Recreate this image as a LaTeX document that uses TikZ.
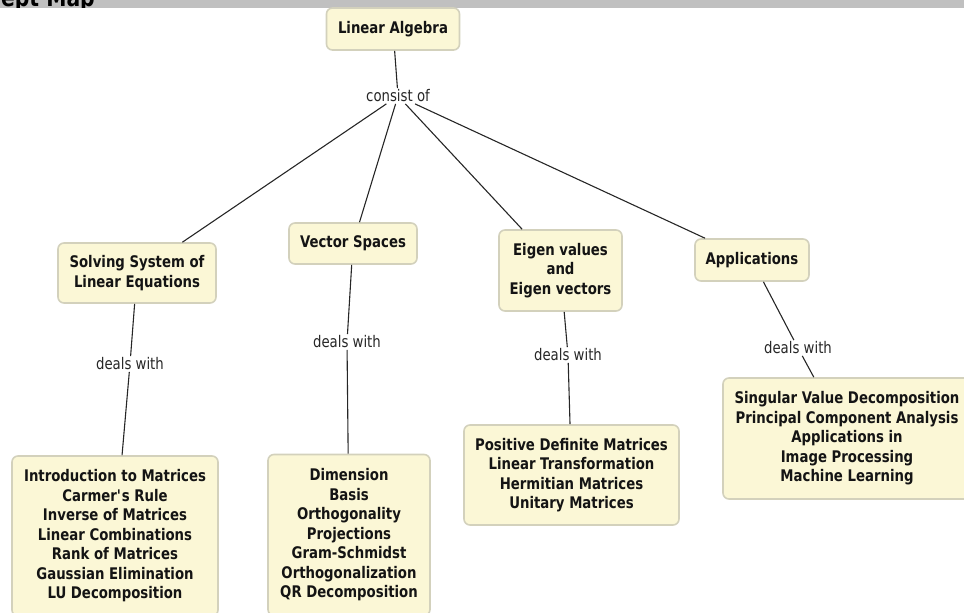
\documentclass[tikz,border=0pt]{standalone}
\usepackage{fontspec}
\setmainfont{DejaVu Sans}[FakeStretch=0.83]
\usepackage{xcolor}
\definecolor{mBoxFill}{HTML}{FBF7D6}
\definecolor{mBoxLine}{HTML}{D3D1BC}
\definecolor{mLink}{HTML}{262626}
\definecolor{mBar}{HTML}{C0C0C0}
\usepackage{tikz}
\usetikzlibrary{positioning}

\begin{document}
\begin{tikzpicture}[x=1pt, y=-1pt, font=\fontsize{16}{19.5}\selectfont,
  concept/.style={draw=mBoxLine, line width=1.6pt, fill=mBoxFill, rounded corners=6pt, align=center, inner sep=0pt, text=black!92, font=\fontsize{16}{19.5}\selectfont\bfseries},
  link/.style={inner sep=1.5pt, text=black!85},
  edge/.style={mLink, line width=1.1pt}]
\clip (0,0) rectangle (964,613);
\fill[mBar] (0,0) rectangle (964,7.5);
\begin{scope}
\clip (0,0) rectangle (964,7.5);
\node[anchor=base east, inner sep=0pt, font=\fontsize{24.5}{28}\selectfont\bfseries] (title) at (95,6.5) {Concept Map};
\end{scope}
% concepts
\node[concept, minimum width=133pt, minimum height=42pt] (la) at (393,29) {Linear Algebra};
\node[concept, minimum width=158pt, minimum height=60pt] (solve) at (137,273) {Solving System of\\ Linear Equations};
\node[concept, minimum width=128pt, minimum height=41pt] (vs) at (353,243.5) {Vector Spaces};
\node[concept, minimum width=123pt, minimum height=81pt] (eig) at (560.5,270.5) {Eigen values\\ and\\ Eigen vectors};
\node[concept, minimum width=114pt, minimum height=42pt] (app) at (752,260) {Applications};
\node[concept, minimum width=206pt, minimum height=160pt] (b1) at (115,536) {Introduction to Matrices\\ Carmer\textquotesingle s Rule\\ Inverse of Matrices\\ Linear Combinations\\ Rank of Matrices\\ Gaussian Elimination\\ LU Decomposition};
\node[concept, minimum width=162pt, minimum height=161pt] (b2) at (349,535) {Dimension\\ Basis\\ Orthogonality\\ Projections\\ Gram-Schmidst\\ Orthogonalization\\ QR Decomposition};
\node[concept, minimum width=215pt, minimum height=100pt] (b3) at (571.5,475) {Positive Definite Matrices\\ Linear Transformation\\ Hermitian Matrices\\ Unitary Matrices};
\node[concept, minimum width=248pt, minimum height=121pt] (b4) at (847,438.5) {Singular Value Decomposition\\ Principal Component Analysis\\ Applications in\\ Image Processing\\ Machine Learning};
% linking phrases
\node[link] (consist) at (398,96) {consist of};
\node[link] (d1) at (130,364) {deals with};
\node[link] (d2) at (347,342) {deals with};
\node[link] (d3) at (568,355) {deals with};
\node[link] (d4) at (798,348) {deals with};
% connectors
\draw[edge] (la) -- (consist);
\foreach \t in {solve,vs,eig,app}
  \draw[edge] (consist) -- (\t);
\draw[edge] (solve) -- (d1) -- (b1);
\draw[edge] (vs) -- (d2) -- (b2);
\draw[edge] (eig) -- (d3) -- (b3);
\draw[edge] (app) -- (d4) -- (b4);
\end{tikzpicture}
\end{document}
